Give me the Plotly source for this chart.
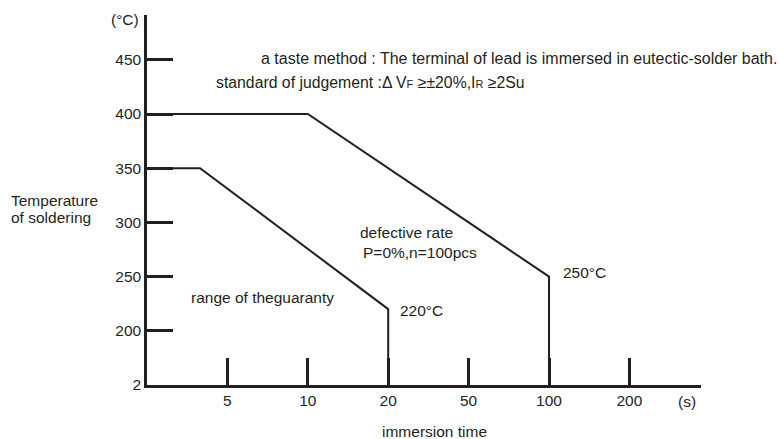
import plotly.graph_objects as go

# ---- data ----
x_tick_pos = [1, 2, 3, 4, 5, 6]
x_tick_text = ["5", "10", "20", "50", "100", "200"]
y_tick_pos = [0, 1, 2, 3, 4, 5, 6]
y_tick_text = ["2", "200", "250", "300", "350", "400", "450"]

# curves in axis-position units (x: tick index for 5,10,20,50,100,200; y: tick index for 2,200..450)
upper_x = [0, 2, 5, 5]
upper_y = [5, 5, 2, 0]          # 400 -> 400 -> 250 -> axis
lower_x = [0, 0.66, 3, 3]
lower_y = [4, 4, 1.4, 0]        # 350 -> 350 -> 220 -> axis

INK = "#231f20"
FONT = "Liberation Sans, Arial, sans-serif"
FS = 15.5

L, R, T, B = 147, 81, 15, 54
W, H = 782, 439
XU = 80.4   # px per x unit
YU = 54.2   # px per y unit
PW = W - L - R
PH = H - T - B
xmax = PW / XU
ymax = PH / YU

def px2paper(px):
    return (px - L) / PW

def py2paper(py):
    return (H - B - py) / PH

fig = go.Figure()
for xs, ys in [(upper_x, upper_y), (lower_x, lower_y)]:
    fig.add_trace(go.Scatter(x=xs, y=ys, mode="lines",
                             line=dict(color=INK, width=2),
                             hoverinfo="skip", showlegend=False,
                             cliponaxis=False))

annots = [
    ("(°C)", 110, 20, FS),
    ("a taste method : The terminal of lead is immersed in eutectic-solder bath.", 260, 58, 16),
    ("standard of judgement :Δ V<span style='font-size:11px'>F</span> ≥±20%,I<span style='font-size:11px'>R</span> ≥2Su", 215, 82, 15.8),
    ("Temperature", 10, 200, FS),
    ("of soldering", 10, 218, FS),
    ("defective rate", 359, 232, FS),
    ("P=0%,n=100pcs", 362, 252, FS),
    ("range of theguaranty", 190, 297, FS),
    ("220°C", 399, 310, FS),
    ("250°C", 562, 272, FS),
    ("(s)", 677, 401, FS),
    ("immersion time", 381, 431, FS),
]
for txt, px, py, fs in annots:
    fig.add_annotation(x=px2paper(px), y=py2paper(py), xref="paper", yref="paper",
                       text=txt, showarrow=False, xanchor="left", yanchor="middle",
                       borderpad=0,
                       font=dict(family=FONT, size=fs, color=INK))

fig.update_xaxes(range=[0, xmax], tickmode="array", tickvals=x_tick_pos,
                 ticktext=x_tick_text, ticks="inside", ticklen=27, tickwidth=2.5,
                 tickcolor=INK, showline=True, linecolor=INK, linewidth=2.5,
                 showgrid=False, zeroline=False, fixedrange=True,
                 tickfont=dict(family=FONT, size=FS, color=INK))
fig.update_yaxes(range=[0, ymax], tickmode="array", tickvals=y_tick_pos,
                 ticktext=y_tick_text, ticks="inside", ticklen=26, tickwidth=2.5,
                 tickcolor=INK, showline=True, linecolor=INK, linewidth=2.5,
                 showgrid=False, zeroline=False, fixedrange=True,
                 tickfont=dict(family=FONT, size=FS, color=INK))

fig.update_layout(width=W, height=H, margin=dict(l=L, r=R, t=T, b=B),
                  plot_bgcolor="white", paper_bgcolor="white",
                  showlegend=False)

fig.write_html("out.html", config={"displayModeBar": False},
               post_script="document.body.style.margin='0';document.body.style.padding='0';")
